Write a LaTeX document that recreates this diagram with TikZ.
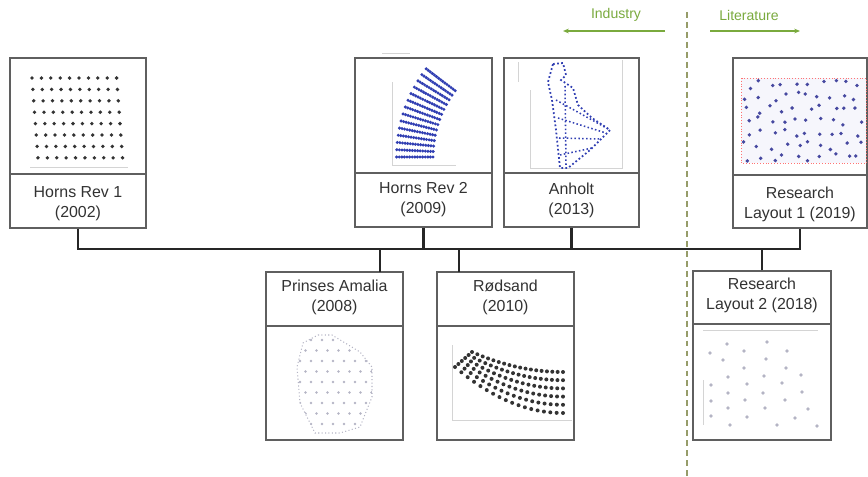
\documentclass[tikz,border=0pt]{standalone}
\usepackage{fontspec}
\setmainfont{Liberation Sans}
\usetikzlibrary{arrows.meta}
\definecolor{framegray}{RGB}{95,95,95}
\definecolor{textgray}{RGB}{50,50,50}
\definecolor{leafgreen}{RGB}{122,170,62}
\definecolor{sepgreen}{RGB}{150,156,105}
\definecolor{axisgray}{RGB}{212,212,212}
\definecolor{turbblue}{RGB}{48,62,178}
\definecolor{scatblue}{RGB}{70,72,160}
\definecolor{paledot}{RGB}{180,180,196}
\definecolor{lavender}{RGB}{246,246,252}
\newlength\px
\setlength\px{0.03cm}
\tikzset{
  frame/.style={draw=framegray, line width=1.1pt, inner sep=0pt},
  caption/.style={text=textgray, align=center, font=\fontsize{13.6}{17}\selectfont},
  tag/.style={text=leafgreen, font=\fontsize{12}{14}\selectfont},
  link/.style={draw=black!85, line width=2.2pt},
  pointer/.style={draw=leafgreen, line width=1pt, -{Stealth[length=5pt,width=4pt]}},
  sep/.style={draw=sepgreen, line width=1.7pt, dash pattern=on 5pt off 3.5pt},
  faint/.style={draw=axisgray, line width=0.6pt}
}
\begin{document}
\begin{tikzpicture}[x=0.03cm, y=-0.03cm]
  \useasboundingbox (0,0) rectangle (868,477);
  \node[frame, minimum width=136\px, minimum height=170\px] (hr1) at (78,143) {};
  \node[frame, minimum width=137\px, minimum height=169\px] (hr2) at (423.5,142.5) {};
  \node[frame, minimum width=135\px, minimum height=169\px] (anh) at (571.5,142.5) {};
  \node[frame, minimum width=134\px, minimum height=170\px] (rl1) at (800,143) {};
  \node[frame, minimum width=137\px, minimum height=168\px] (pa) at (334.5,356) {};
  \node[frame, minimum width=137\px, minimum height=168\px] (rod) at (505.5,356) {};
  \node[frame, minimum width=138\px, minimum height=169\px] (rl2) at (762,355.5) {};
  \draw[frame] (hr1.west |- 0,174) -- (hr1.east |- 0,174);
  \draw[frame] (hr2.west |- 0,173) -- (hr2.east |- 0,173);
  \draw[frame] (anh.west |- 0,173) -- (anh.east |- 0,173);
  \draw[frame] (rl1.west |- 0,175) -- (rl1.east |- 0,175);
  \draw[frame] (pa.west |- 0,326) -- (pa.east |- 0,326);
  \draw[frame] (rod.west |- 0,326) -- (rod.east |- 0,326);
  \draw[frame] (rl2.west |- 0,324) -- (rl2.east |- 0,324);
  \node[caption] (hr1t) at (78,204) {Horns Rev 1\\(2002)};
  \node[caption] (hr2t) at (423.5,200) {Horns Rev 2\\(2009)};
  \node[caption] (anht) at (571.5,200) {Anholt\\(2013)};
  \node[caption] (rl1t) at (800,204) {Research\\Layout 1 (2019)};
  \node[caption] (pat) at (334.5,297) {Prinses Amalia\\(2008)};
  \node[caption] (rodt) at (505.5,297) {R\o dsand\\(2010)};
  \node[caption] (rl2t) at (762,295) {Research\\Layout 2 (2018)};
  \coordinate (bus) at (400,249);
  \coordinate (pastem) at (380,272);
  \coordinate (rodstem) at (459,272);
  \draw[link] (hr1.south) |- (bus) -| (rl1.south);
  \draw[link] (hr2.south) -- (hr2.south |- bus);
  \draw[link] (anh.south) -- (anh.south |- bus);
  \draw[link] (pastem) -- (pastem |- bus);
  \draw[link] (rodstem) -- (rodstem |- bus);
  \draw[link] (rl2.north) -- (rl2.north |- bus);
  \coordinate (sepT) at (687,12);
  \coordinate (sepB) at (687,476);
  \draw[sep] (sepT) -- (sepB);
  \node[tag] (ind) at (616,15) {Industry};
  \node[tag] (lit) at (749,15) {Literature};
  \coordinate (indA) at (665,31);
  \coordinate (indB) at (563,31);
  \coordinate (litA) at (710,31);
  \coordinate (litB) at (800,31);
  \draw[pointer] (indA) -- (indB);
  \draw[pointer] (litA) -- (litB);
  \draw[faint] (30,167) -- (128,167);
  \foreach \r in {0,...,7}
    \foreach \c in {0,...,9}
      \fill[black!80] ({32+\r*0.85+\c*9.4},{78+\r*11.4}) circle (1.9);
  \draw[faint] (392,82) -- (392,165) -- (456,165);
  \draw[faint] (382,53) -- (410,53);
  \foreach \k in {0,...,13}
    \foreach \j in {0,...,14}
      \fill[turbblue] ({543+(110+\j*2.6)*cos(180-\k*2.85)},{157-(110+\j*2.6)*sin(180-\k*2.85)}) circle (1.7);
  \draw[faint] (530,90) -- (530,168) -- (622,168) -- (622,60);
  \draw[faint] (518,62) -- (518,82);
  \draw[turbblue, line width=1.5pt, dotted] (553,64) -- (563,63) -- (566,75) -- (561,80) -- (573,88) -- (578,105)
    -- (592,118) -- (610,130) -- (590,150) -- (568,168) -- (560,168) -- (556,130) -- (552,100) -- (548,82) -- cycle;
  \draw[turbblue, line width=1.3pt, dotted] (556,100) -- (610,130);
  \draw[turbblue, line width=1.3pt, dotted] (558,118) -- (606,133);
  \draw[turbblue, line width=1.3pt, dotted] (559,138) -- (600,139);
  \draw[turbblue, line width=1.3pt, dotted] (560,155) -- (592,148);
  \draw[turbblue, line width=1.3pt, dotted] (565,86) -- (566,165);
  \draw[red!55, dotted, fill=lavender] (741,78) rectangle (866,163);
  \pgfmathsetseed{4217}
  \foreach \r in {0,...,6}
    \foreach \c in {0,...,9}
      \fill[scatblue] ({747+\c*12.3+9*rnd-4.5},{84+\r*12.4+9*rnd-4.5}) circle (1.9);
  \begin{scope}
    \clip (318,335) -- (332,335) -- (360,352) -- (372,367) -- (372,397) -- (360,427) -- (340,433)
      -- (315,433) -- (300,403) -- (297,367) -- (303,343) -- cycle;
    \foreach \r in {0,...,9}
      \foreach \c in {0,...,7}
        \fill[paledot] ({300+\c*11+mod(\r,2)*5.5},{340+\r*10.5}) circle (1.3);
  \end{scope}
  \draw[paledot, dotted, line width=0.9pt] (318,335) -- (332,335) -- (360,352) -- (372,367) -- (372,397) -- (360,427)
    -- (340,433) -- (315,433) -- (300,403) -- (297,367) -- (303,343) -- cycle;
  \draw[faint] (452,345) -- (452,420) -- (572,420);
  \foreach \k in {0,...,5}
    \foreach \j in {0,...,17}
      \fill[black!80] ({472-3.4*\k+\j/17*(91+3.4*\k)},{372+8.2*\k-(20+5.2*\k)*(1-\j/17)^2}) circle (2);
  \draw[faint] (703,330) -- (818,330);
  \draw[faint] (703,380) -- (703,425);
  \foreach \p in {(727,344),(767,342),(710,353),(744,351),(787,351),(723,360),(766,359),(744,368),
      (786,368),(728,377),(764,376),(801,375),(711,385),(747,384),(782,383),(728,393),(763,393),
      (802,392),(711,401),(745,400),(785,400),(728,408),(765,408),(808,409),(711,416),(747,417),
      (795,418),(730,425),(777,425),(817,426)}
    \fill[paledot] \p circle (1.9);
\end{tikzpicture}
\end{document}
